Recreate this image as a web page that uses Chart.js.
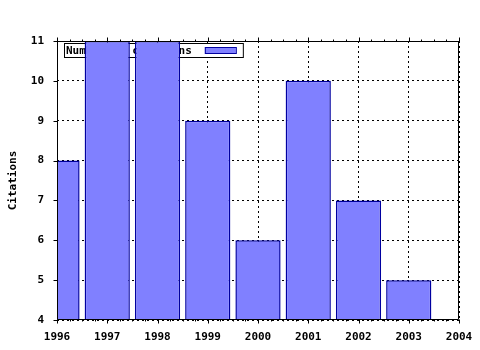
<!DOCTYPE html>
<html>
<head>
<meta charset="utf-8">
<script src="https://cdn.jsdelivr.net/npm/chart.js@4/dist/chart.umd.min.js"></script>
<style>
  html, body { margin: 0; padding: 0; background: #fff; }
  #wrap { width: 480px; height: 350px; }
</style>
</head>
<body>
<div id="wrap"><canvas id="chart" width="480" height="350"></canvas></div>
<script>
// citations per year
var years = [1996, 1997, 1998, 1999, 2000, 2001, 2002, 2003];
var citations = [8, 11, 11, 9, 6, 10, 7, 5];
var yTicks = [4, 5, 6, 7, 8, 9, 10, 11];
var xTicks = [1996, 1997, 1998, 1999, 2000, 2001, 2002, 2003, 2004];

var FONT = { family: '"DejaVu Sans Mono", "Liberation Mono", monospace', size: 11, weight: 'bold' };
var FONT_CSS = 'bold 11px "DejaVu Sans Mono", "Liberation Mono", monospace';

var points = [];
for (var i = 0; i < years.length; i++) {
    points.push({ x: years[i], y: citations[i] });
}

// legend sits under the bars, so draw it before the datasets
var legendUnder = {
    id: 'legendUnder',
    beforeDatasetsDraw: function(chart) {
        var ctx = chart.ctx, area = chart.chartArea;
        var ds = chart.data.datasets[0];
        ctx.save();
        ctx.font = FONT_CSS;
        var tw = ctx.measureText(ds.label).width;
        var bx = area.left + 7, by = area.top + 2;
        var bw = tw + 2 + 13 + 31 + 7, bh = 14;
        ctx.fillStyle = '#fff';
        ctx.fillRect(bx, by, bw, bh);
        ctx.strokeStyle = '#000';
        ctx.lineWidth = 1;
        ctx.strokeRect(bx + 0.5, by + 0.5, bw, bh);
        ctx.fillStyle = '#000';
        ctx.textBaseline = 'middle';
        ctx.textAlign = 'left';
        ctx.fillText(ds.label, bx + 2, by + bh / 2 + 1);
        var sx = bx + 2 + tw + 13;
        ctx.fillStyle = ds.backgroundColor;
        ctx.fillRect(sx, by + 4, 31, 7);
        ctx.strokeStyle = ds.borderColor;
        ctx.strokeRect(sx + 0.5, by + 4.5, 31, 6);
        ctx.restore();
    }
};

// frame plus major / minor tick marks
var frameTicks = {
    id: 'frameTicks',
    afterDraw: function(chart) {
        var ctx = chart.ctx, area = chart.chartArea;
        var xs = chart.scales.x, ys = chart.scales.y;
        ctx.save();
        ctx.strokeStyle = '#000';
        ctx.lineWidth = 1;
        ctx.setLineDash([]);
        ctx.beginPath();
        var L = Math.round(area.left) + 0.5, R = Math.round(area.right) - 0.5;
        var T = Math.round(area.top) + 0.5, B = Math.round(area.bottom) - 0.5;
        ctx.moveTo(L, T); ctx.lineTo(R, T); ctx.lineTo(R, B); ctx.lineTo(L, B); ctx.closePath();
        for (var v = xTicks[0]; v <= xTicks[xTicks.length - 1] + 1e-9; v += 0.25) {
            var px = Math.round(xs.getPixelForValue(v)) + 0.5;
            var major = Math.abs(v - Math.round(v)) < 1e-9;
            var len = major ? 4 : 2;
            ctx.moveTo(px, B); ctx.lineTo(px, B + len);
            ctx.moveTo(px, T); ctx.lineTo(px, T - len);
        }
        for (var j = 0; j < yTicks.length; j++) {
            var py = Math.round(ys.getPixelForValue(yTicks[j])) + 0.5;
            ctx.moveTo(L, py); ctx.lineTo(L - 4, py);
        }
        ctx.stroke();
        ctx.restore();
    }
};

var ctx = document.getElementById('chart').getContext('2d');
var chart = new Chart(ctx, {
    type: 'bar',
    data: {
        datasets: [{
            label: 'Number of citations',
            data: points,
            backgroundColor: '#8080ff',
            borderColor: '#0000a0',
            borderWidth: 1.5,
            borderSkipped: false,
            inflateAmount: 0,
            barPercentage: 0.9,
            categoryPercentage: 1,
            clip: 0
        }]
    },
    options: {
        responsive: false,
        animation: false,
        layout: { padding: { top: 41, right: 21, left: 0, bottom: 0 } },
        plugins: {
            legend: { display: false },
            tooltip: { enabled: false }
        },
        scales: {
            x: {
                type: 'linear',
                offset: false,
                min: xTicks[0],
                max: xTicks[xTicks.length - 1],
                afterBuildTicks: function(scale) {
                    scale.ticks = xTicks.map(function(v) { return { value: v }; });
                },
                afterFit: function(scale) {
                    scale.height = 30;
                    scale.paddingLeft = 0;
                    scale.paddingRight = 0;
                },
                ticks: {
                    color: '#000',
                    font: FONT,
                    padding: 11,
                    maxRotation: 0,
                    autoSkip: false,
                    callback: function(v) { return String(v); }
                },
                grid: { color: '#000', lineWidth: 1, drawTicks: false, offset: false },
                border: { display: false, dash: [2, 3] }
            },
            y: {
                min: yTicks[0],
                max: yTicks[yTicks.length - 1],
                afterBuildTicks: function(scale) {
                    scale.ticks = yTicks.map(function(v) { return { value: v }; });
                },
                afterFit: function(scale) { scale.width = 57; },
                ticks: { color: '#000', font: FONT, padding: 13 },
                grid: { color: '#000', lineWidth: 1, drawTicks: false },
                border: { display: false, dash: [2, 3] },
                title: {
                    display: true,
                    text: 'Citations',
                    color: '#000',
                    font: FONT,
                    padding: { top: 7, bottom: 0 }
                }
            }
        }
    },
    plugins: [legendUnder, frameTicks]
});
</script>
</body>
</html>
